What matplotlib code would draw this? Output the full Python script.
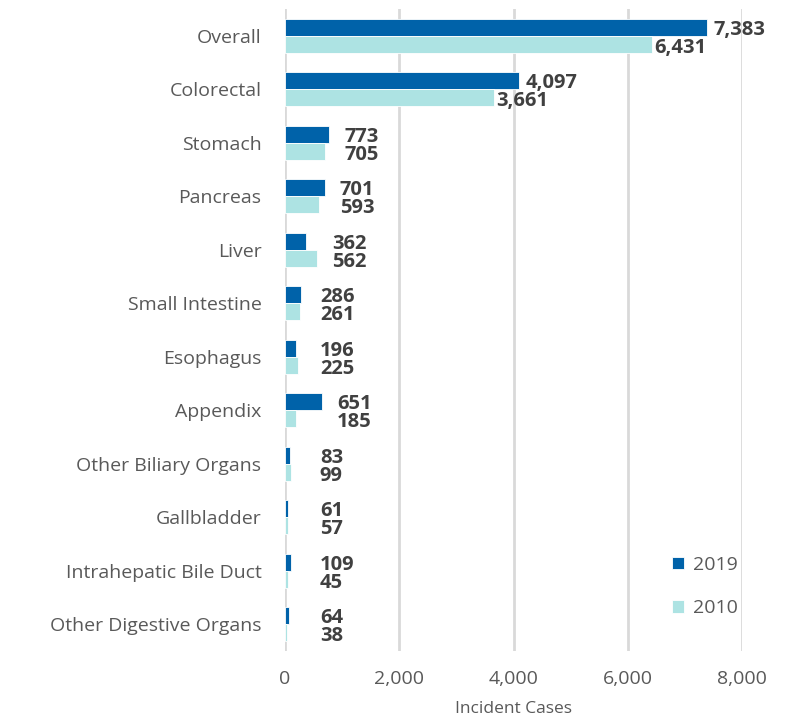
import matplotlib
matplotlib.use("Agg")
import matplotlib.pyplot as plt
import numpy as np

categories = ["Overall", "Colorectal", "Stomach", "Pancreas", "Liver", "Small Intestine",
              "Esophagus", "Appendix", "Other Biliary Organs", "Gallbladder",
              "Intrahepatic Bile Duct", "Other Digestive Organs"]
values_2019 = [7383, 4097, 773, 701, 362, 286, 196, 651, 83, 61, 109, 64]
values_2010 = [6431, 3661, 705, 593, 562, 261, 225, 185, 99, 57, 45, 38]
xticks = [0, 2000, 4000, 6000, 8000]
xtick_labels = ["0", "2,000", "4,000", "6,000", "8,000"]

plt.rcParams['font.family'] = ['Open Sans', 'DejaVu Sans']

c2019 = "#0062A9"
c2010 = "#ADE3E3"
grey = "#595959"
dark = "#404040"

fig = plt.figure(figsize=(7.92, 7.19), dpi=100)
ax = fig.add_axes([285/792, 1-651/719, (742-285)/792, (651-9)/719])

y = np.arange(len(categories))
h = 0.32
ax.barh(y - h/2, values_2019, height=h, color=c2019, edgecolor="white", linewidth=0.6, label="2019", zorder=3)
ax.barh(y + h/2, values_2010, height=h, color=c2010, edgecolor="white", linewidth=0.6, label="2010", zorder=3)

dy = 0.05
for i, (a, b) in enumerate(zip(values_2019, values_2010)):
    m = max(a, b)
    if m < 1000:
        xa = xb = max(m, 350) + 260
    else:
        xa = a + 120
        xb = b + 40
    ax.text(xa, i - h/2 + dy, f"{a:,}", ha="left", va="center", fontsize=14.5,
            fontweight="bold", color=dark, zorder=4, clip_on=False)
    ax.text(xb, i + h/2 + dy + 0.01, f"{b:,}", ha="left", va="center", fontsize=14.5,
            fontweight="bold", color=dark, zorder=4, clip_on=False)

ax.set_ylim(len(categories) - 0.5, -0.5)
ax.set_xlim(0, 8000)
ax.set_yticks(y)
ax.set_yticklabels(categories, fontsize=14, color=grey)
ax.set_xticks(xticks)
ax.set_xticklabels(xtick_labels, fontsize=14, color=grey)
ax.tick_params(axis="y", length=0, pad=17)
ax.tick_params(axis="x", length=0, pad=14)
for s in ax.spines.values():
    s.set_visible(False)
ax.grid(axis="x", color="#D9D9D9", linewidth=2, zorder=0)
ax.set_axisbelow(True)
ax.set_xlabel("Incident Cases", fontsize=12.5, color=grey, labelpad=9)

leg = ax.legend(loc="lower right", bbox_to_anchor=(1.03, 0.025), frameon=False,
                fontsize=14, labelcolor=grey, handlelength=0.6, handleheight=0.6,
                handletextpad=0.5, labelspacing=1.3)

fig.savefig("out.png", dpi=100)
